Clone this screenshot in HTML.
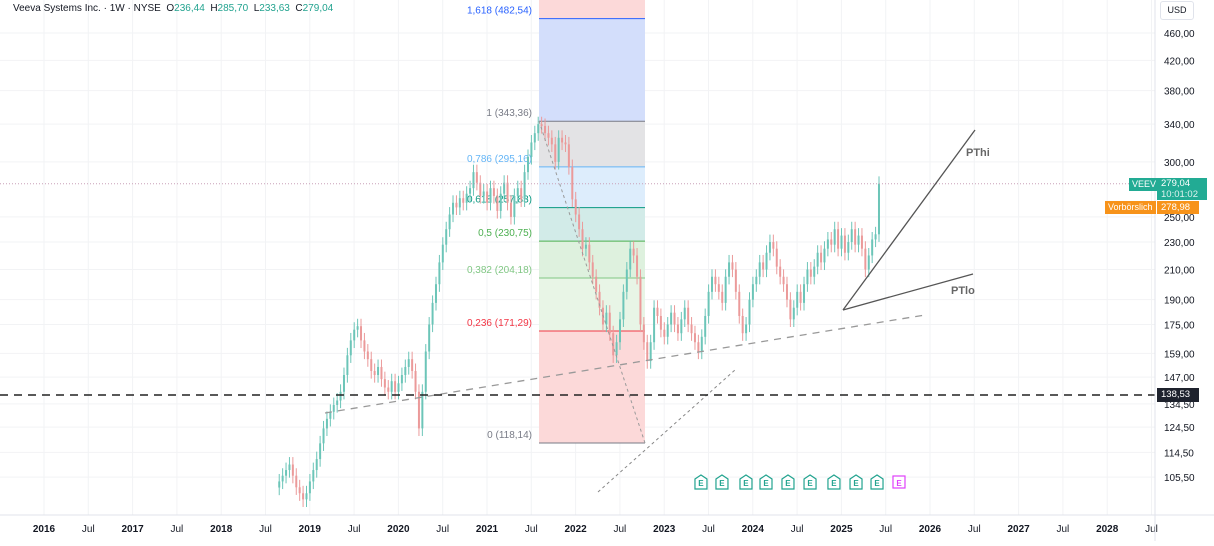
<!DOCTYPE html>
<html><head><meta charset="utf-8"><style>
body{margin:0;background:#fff;font-family:"Liberation Sans",sans-serif;}
svg text{font-family:"Liberation Sans",sans-serif;}
</style></head><body>
<svg id="c" width="1214" height="541" xmlns="http://www.w3.org/2000/svg">
<rect x="0" y="0" width="1214" height="541" fill="#fff"/>
<g id="grid"></g>
<g id="fib"></g>
<g id="candles"></g>
<g id="draw"></g>
<g id="axes"></g>
</svg>
<script>
const NS="http://www.w3.org/2000/svg";
const yTicks=[460,420,380,340,300,250,230,210,190,175,159,147,134.5,124.5,114.5,105.5];
const yTickLabels=["460,00","420,00","380,00","340,00","300,00","250,00","230,00","210,00","190,00","175,00","159,00","147,00","134,50","124,50","114,50","105,50"];
const xYears=[2016,2016.5,2017,2017.5,2018,2018.5,2019,2019.5,2020,2020.5,2021,2021.5,2022,2022.5,2023,2023.5,2024,2024.5,2025,2025.5,2026,2026.5,2027,2027.5,2028,2028.5];
const xLabels=["2016","Jul","2017","Jul","2018","Jul","2019","Jul","2020","Jul","2021","Jul","2022","Jul","2023","Jul","2024","Jul","2025","Jul","2026","Jul","2027","Jul","2028","Jul"];
const startYear=2018.655;
const stepYears=2/52;
const closes=[104,106,108,110,106,102,100,98,100,104,108,112,118,124,128,131,134,136,140,148,158,166,172,174,166,160,156,150,148,152,146,142,140,145,140,144,148,152,156,150,140,124,140,160,175,188,200,215,228,240,252,262,258,266,262,270,275,290,280,268,272,262,275,268,255,270,280,262,250,268,275,265,290,305,320,330,340,338,330,325,318,300,325,320,318,295,265,252,240,225,228,215,205,195,185,175,182,170,158,165,178,195,210,225,220,205,175,165,155,165,185,180,172,168,175,182,175,170,178,185,175,170,165,160,168,180,195,205,200,195,188,205,215,210,195,180,170,175,190,200,205,215,210,222,230,225,212,205,200,190,178,185,195,188,200,210,205,212,222,215,225,232,228,240,225,235,222,230,240,228,235,225,210,220,232,236,279];
const fibLevels=[1.618,1,0.786,0.618,0.5,0.382,0.236,0];
const fibPrices=[482.54,343.36,295.16,257.83,230.75,204.18,171.29,118.14];
const fibLabels=["1,618 (482,54)","1 (343,36)","0,786 (295,16)","0,618 (257,83)","0,5 (230,75)","0,382 (204,18)","0,236 (171,29)","0 (118,14)"];
const fibColors=["#2962ff","#787b86","#64b5f6","#089981","#4caf50","#81c784","#f23645","#787b86"];
const fibFills=["#d3defb","#e3e3e5","#ddedfc","#d2ebe8","#def1de","#e8f5e6","#fcd9d9"];
const earnYears=[2023.415,2023.652,2023.923,2024.149,2024.397,2024.646,2024.916,2025.165,2025.402,2025.65];

const PL=1155, PB=515;
function X(yr){return 44+(yr-2016)*88.6;}
function Y(p){return 33-Math.log(p/460)*301.6;}
function el(tag,attrs,parent,text){const e=document.createElementNS(NS,tag);for(const k in attrs)e.setAttribute(k,attrs[k]);if(text!==undefined)e.textContent=text;parent.appendChild(e);return e;}
const grid=document.getElementById('grid'),axes=document.getElementById('axes'),fib=document.getElementById('fib'),cg=document.getElementById('candles'),dr=document.getElementById('draw');

yTicks.forEach((p,i)=>{
  const g=el('line',{x1:0,x2:PL,y1:Y(p),y2:Y(p),stroke:'#f2f3f5','stroke-width':1},grid);
  
  
  const t=el('text',{x:1164,y:Y(p)+4,'font-size':10,fill:'#131722'},axes,yTickLabels[i]);
  
  
});
xYears.forEach((yr,i)=>{
  const g=el('line',{x1:X(yr),x2:X(yr),y1:0,y2:PB,stroke:'#f2f3f5','stroke-width':1},grid);
  
  
  const yrLbl=xLabels[i]!=="Jul";
  const t=el('text',{x:X(yr),y:532,'font-size':10,'text-anchor':'middle',fill:'#131722','font-weight':yrLbl?'bold':'normal'},axes,xLabels[i]);
  
  
});

// fib
const fx1=539,fx2=645;
let r=el('rect',{x:fx1,y:0,width:fx2-fx1,height:Y(fibPrices[0]),fill:'#fcd9d9'},fib);


for(let i=0;i<fibPrices.length-1;i++){
  const z=el('rect',{x:fx1,y:Y(fibPrices[i]),width:fx2-fx1,height:Y(fibPrices[i+1])-Y(fibPrices[i]),fill:fibFills[i]},fib);
  
  
}
fibPrices.forEach((p,i)=>{
  const l=el('line',{x1:fx1,x2:fx2,y1:Y(p),y2:Y(p),stroke:fibColors[i],'stroke-width':1},fib);
  
  
  const t=el('text',{x:532,y:Y(p)-5,'font-size':10,'text-anchor':'end',fill:fibColors[i]},fib,fibLabels[i]);
  
  
});

// candles
let prev=closes[0]*0.98;
closes.forEach((c,i)=>{
  const o=prev; prev=c;
  const x=X(startYear+i*stepYears);
  const hi=Math.max(o,c)*1.025, lo=Math.min(o,c)*0.975;
  const col=c>=o?'#6cc5b8':'#eb9a9a';
  const w=el('line',{x1:x,x2:x,y1:Y(hi),y2:Y(lo),stroke:col,'stroke-width':1},cg);
  
  
  const b=el('rect',{x:x-1,y:Math.min(Y(o),Y(c)),width:2,height:Math.max(1,Math.abs(Y(o)-Y(c))),fill:col},cg);
  
  
});

// drawings
function line(a,name){const l=el('line',a,dr);return l;}
line({x1:0,x2:PL,y1:Y(279.04),y2:Y(279.04),stroke:'#c9a0b8','stroke-width':1,'stroke-dasharray':'1 2'},'last-price-line');
line({x1:539,y1:121,x2:645,y2:443,stroke:'#9a9a9a','stroke-width':1,'stroke-dasharray':'3 3'},'fib-trend-line');
line({x1:325,y1:413,x2:925,y2:315,stroke:'#999','stroke-width':1.3,'stroke-dasharray':'7 6'},'support-trendline');
line({x1:598,y1:492,x2:735,y2:370,stroke:'#888','stroke-width':1,'stroke-dasharray':'3 3'},'lower-trendline');
line({x1:0,x2:PL,y1:Y(138.53),y2:Y(138.53),stroke:'#222','stroke-width':1.5,'stroke-dasharray':'8 6'},'horizontal-level-line');
line({x1:843,y1:310,x2:975,y2:130,stroke:'#555','stroke-width':1.3},'pthi-line');
line({x1:843,y1:310,x2:973,y2:274,stroke:'#555','stroke-width':1.3},'ptlo-line');
let t=el('text',{x:966,y:156,'font-size':11,'font-weight':'bold',fill:'#666'},dr,'PThi');

t=el('text',{x:951,y:294,'font-size':11,'font-weight':'bold',fill:'#666'},dr,'PTlo');


earnYears.forEach((yr,i)=>{
  const x=X(yr), last=i===earnYears.length-1, col=last?'#e040fb':'#22a38f';
  const g=el('g',{},dr);
  
  
  if(last) el('rect',{x:x-6,y:476,width:12,height:12,fill:'#fff',stroke:col,'stroke-width':1.2},g);
  else el('path',{d:`M${x-6} 479 L${x} 475 L${x+6} 479 L${x+6} 489 L${x-6} 489 Z`,fill:'#fff',stroke:col,'stroke-width':1.2},g);
  el('text',{x:x,y:486,'font-size':8,'text-anchor':'middle',fill:col,'font-weight':'bold'},g,'E');
});

// axes frame
let a=el('line',{x1:0,x2:1214,y1:PB,y2:PB,stroke:'#e0e3eb'},axes);
a=el('line',{x1:PL,x2:PL,y1:0,y2:541,stroke:'#e0e3eb'},axes);
</script>
<div style="position:absolute;left:13px;top:3px;font-size:10px;color:#131722;">Veeva Systems Inc. · 1W · NYSE &nbsp;O<span style="color:#22a38f">236,44</span> &nbsp;H<span style="color:#22a38f">285,70</span> &nbsp;L<span style="color:#22a38f">233,63</span> &nbsp;C<span style="color:#22a38f">279,04</span></div>
<div style="position:absolute;left:1160px;top:1px;width:32px;height:17px;border:1px solid #e0e3eb;border-radius:3px;font-size:9px;line-height:17px;text-align:center;color:#131722;background:#fff">USD</div>
<div style="position:absolute;left:1129px;top:178px;height:13px;padding:0 3px;background:#22ab94;color:#fff;font-size:9px;line-height:13px">VEEV</div>
<div style="position:absolute;left:1157px;top:178px;width:46px;height:22px;background:#22ab94;color:#fff;font-size:9.5px;line-height:11px;padding-left:4px">279,04<br><span style="opacity:.85">10:01:02</span></div>
<div style="position:absolute;left:1105px;top:201px;height:13px;padding:0 3px;background:#f7931a;color:#fff;font-size:9px;line-height:13px">Vorbörslich</div>
<div style="position:absolute;left:1157px;top:201px;width:38px;height:13px;padding-left:4px;background:#f7931a;color:#fff;font-size:9.5px;line-height:13px">278,98</div>
<div style="position:absolute;left:1157px;top:388px;width:38px;height:14px;padding-left:4px;background:#1e222d;color:#fff;font-size:9.5px;line-height:14px">138,53</div>
</body></html>
